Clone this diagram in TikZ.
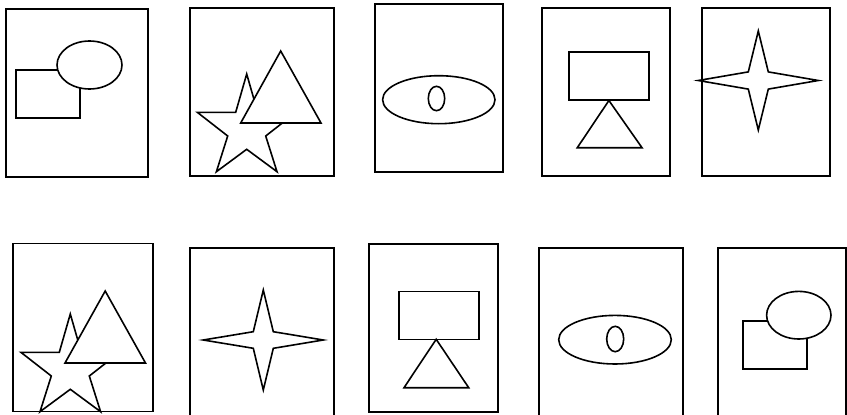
\documentclass[tikz,border=0pt]{standalone}
\usetikzlibrary{shapes.geometric}

\begin{document}
\begin{tikzpicture}[
  x=1pt, y=-1pt,
  frame/.style = {draw, line width=1.8pt, inner sep=0pt, minimum height=168pt},
  box/.style = {draw, line width=1.6pt, fill=white, inner sep=0pt},
  oval/.style = {draw, ellipse, line width=1.6pt, fill=white, inner sep=0pt},
  outline/.style = {draw, line width=1.6pt, line join=miter},
]
\useasboundingbox (0,0) rectangle (847,415);
\clip (0,0) rectangle (847,415);

%% ── Top row: frames ──────────────────────────────────────────────────────────
\node[frame, minimum width=142.6pt] (p1) at (77,92.9) {};
\node[frame, minimum width=144pt]   (p2) at (262,92.2) {};
\node[frame, minimum width=128pt]   (p3) at (439,87.7) {};
\node[frame, minimum width=128.6pt] (p4) at (606,92) {};
\node[frame, minimum width=128pt]   (p5) at (766,92) {};

%% ── Bottom row: frames ───────────────────────────────────────────────────────
\node[frame, minimum width=139.4pt] (p6) at (83,327.5) {};
\node[frame, minimum width=143.7pt] (p7) at (261.9,332.3) {};
\node[frame, minimum width=128.4pt] (p8) at (433.5,327.7) {};
\node[frame, minimum width=144pt]   (p9) at (611.3,332.3) {};
\node[frame, minimum width=128pt]   (p10) at (781.7,332.3) {};

%% ── Panel 1: box behind oval ─────────────────────────────────────────────────
\node[box, minimum width=64pt, minimum height=48pt] (box1) at (48,94) {};
\node[oval, minimum width=65pt, minimum height=48pt] (oval1) at (89.5,65) {};

%% ── Panel 2: star behind triangle ────────────────────────────────────────────
\draw[outline, fill=white] (246.7,74) -- (257.7,112.3) -- (296,112.3) -- (265.7,136)
  -- (277,171.7) -- (246.7,149.3) -- (216.4,171.7) -- (227.7,136)
  -- (197.3,112.3) -- (235.7,112.3) -- cycle;
\draw[outline, fill=white] (280.7,51) -- (321,123) -- (240.7,123) -- cycle;

%% ── Panel 3: eye ─────────────────────────────────────────────────────────────
\node[oval, minimum width=112.4pt, minimum height=48pt] (eye3) at (438.8,99.7) {};
\node[oval, minimum width=16.4pt, minimum height=24.4pt] (pupil3) at (436.5,98.5) {};

%% ── Panel 4: box on triangle ─────────────────────────────────────────────────
\node[box, minimum width=80.3pt, minimum height=48pt] (box4) at (608.9,75.7) {};
\draw[outline] (box4.south) -- (642,147.7) -- (577.3,147.7) -- cycle;

%% ── Panel 5: four-point star ─────────────────────────────────────────────────
\draw[outline] (758.3,31) -- (768.3,71.9) -- (818.3,80.5) -- (768.3,89.1)
  -- (758.3,130) -- (748.3,89.1) -- (698.3,80.5) -- (748.3,71.9) -- cycle;

%% ── Panel 6: star behind triangle ────────────────────────────────────────────
\draw[outline, fill=white] (70.3,314) -- (81.3,352.3) -- (119.6,352.3) -- (89.3,376)
  -- (100.6,411.7) -- (70.3,389.3) -- (40,411.7) -- (51.3,376)
  -- (20.9,352.3) -- (59.3,352.3) -- cycle;
\draw[outline, fill=white] (105.2,291) -- (145.5,363) -- (65,363) -- cycle;

%% ── Panel 7: four-point star ─────────────────────────────────────────────────
\draw[outline] (263.3,290) -- (273.3,331.7) -- (323.3,340) -- (273.3,348.3)
  -- (263.3,390) -- (253.3,348.3) -- (203.3,340) -- (253.3,331.7) -- cycle;

%% ── Panel 8: box on triangle ─────────────────────────────────────────────────
\node[box, minimum width=80.3pt, minimum height=48pt] (box8) at (438.9,315.3) {};
\draw[outline] (436.2,339.3) -- (468.7,387.7) -- (404,387.7) -- cycle;

%% ── Panel 9: eye ─────────────────────────────────────────────────────────────
\node[oval, minimum width=112.6pt, minimum height=48.6pt] (eye9) at (615,339.7) {};
\node[oval, minimum width=17pt, minimum height=25.4pt] (pupil9) at (615.2,339) {};

%% ── Panel 10: box behind oval ────────────────────────────────────────────────
\node[box, minimum width=64.3pt, minimum height=48.3pt] (box10) at (774.9,344.9) {};
\node[oval, minimum width=64.4pt, minimum height=47.6pt] (oval10) at (798.8,315.2) {};

\end{tikzpicture}
\end{document}
